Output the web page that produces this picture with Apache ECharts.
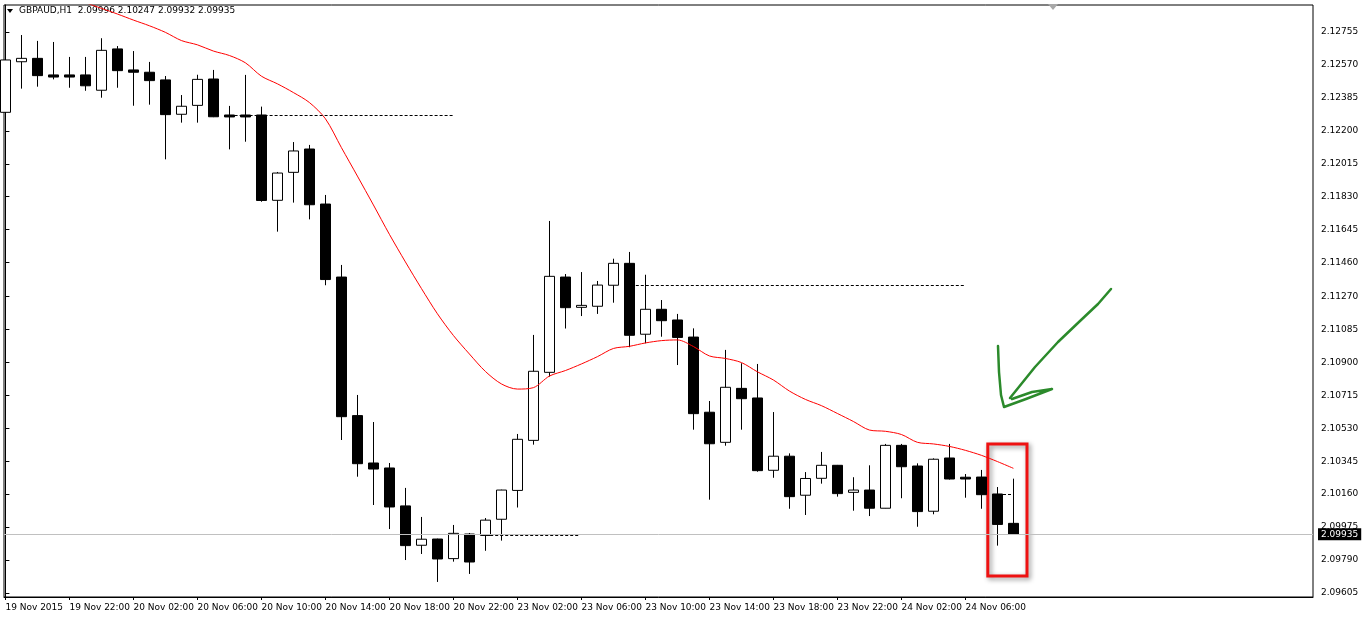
<!DOCTYPE html>
<html>
<head>
<meta charset="utf-8">
<script src="https://cdn.jsdelivr.net/npm/echarts@6/dist/echarts.min.js"></script>
<style>
  html, body { margin: 0; padding: 0; background: #fff; }
  #chart { width: 1362px; height: 617px; }
</style>
</head>
<body>
<div id="chart"></div>
<script>
// GBPAUD H1, 19 Nov 18:00 .. 24 Nov 09:00
const symbol = 'GBPAUD,H1';

const opens = [2.12304, 2.12588, 2.12607, 2.12514, 2.12514, 2.12514, 2.12428, 2.12660, 2.12542, 2.12529,
  2.12486, 2.12293, 2.12343, 2.12491, 2.12289, 2.12289, 2.12289, 2.11810, 2.11967, 2.12098,
  2.11789, 2.11379, 2.10601, 2.10335, 2.10307, 2.10094, 2.09873, 2.09908, 2.09798, 2.09936,
  2.09928, 2.10019, 2.10181, 2.10462, 2.10844, 2.11379, 2.11209, 2.11215, 2.11333, 2.11456,
  2.11058, 2.11198, 2.11138, 2.11042, 2.10620, 2.10451, 2.10754, 2.10700, 2.10294, 2.10373,
  2.10154, 2.10249, 2.10322, 2.10170, 2.10183, 2.10081, 2.10434, 2.10318, 2.10064, 2.10363,
  2.10255, 2.10256, 2.10161, 2.09996];
const highs = [2.12648, 2.12738, 2.12705, 2.12699, 2.12615, 2.12615, 2.12720, 2.12676, 2.12648, 2.12587,
  2.12508, 2.12401, 2.12515, 2.12542, 2.12340, 2.12514, 2.12336, 2.11969, 2.12137, 2.12121,
  2.11840, 2.11447, 2.10717, 2.10565, 2.10335, 2.10195, 2.10032, 2.09910, 2.09987, 2.09942,
  2.10026, 2.10185, 2.10498, 2.11054, 2.11694, 2.11396, 2.11407, 2.11357, 2.11482, 2.11520,
  2.11392, 2.11250, 2.11172, 2.11091, 2.10683, 2.10970, 2.10895, 2.10891, 2.10621, 2.10389,
  2.10284, 2.10397, 2.10324, 2.10255, 2.10322, 2.10442, 2.10442, 2.10333, 2.10361, 2.10442,
  2.10273, 2.10296, 2.10200, 2.10247];
const lows = [2.12295, 2.12437, 2.12448, 2.12489, 2.12442, 2.12425, 2.12386, 2.12442, 2.12341, 2.12347,
  2.12040, 2.12246, 2.12246, 2.12277, 2.12096, 2.12139, 2.11802, 2.11634, 2.11797, 2.11703,
  2.11333, 2.10464, 2.10258, 2.10099, 2.09964, 2.09790, 2.09824, 2.09667, 2.09781, 2.09712,
  2.09842, 2.09899, 2.10085, 2.10438, 2.10820, 2.11090, 2.11160, 2.11172, 2.11235, 2.10985,
  2.11007, 2.11044, 2.10885, 2.10522, 2.10129, 2.10432, 2.10522, 2.10286, 2.10252, 2.10078,
  2.10043, 2.10219, 2.10146, 2.10067, 2.10037, 2.10080, 2.10137, 2.09977, 2.10047, 2.10242,
  2.10140, 2.10078, 2.09871, 2.09932];
const closes = [2.12598, 2.12607, 2.12510, 2.12502, 2.12502, 2.12453, 2.12652, 2.12538, 2.12529, 2.12482,
  2.12291, 2.12338, 2.12489, 2.12279, 2.12278, 2.12278, 2.11809, 2.11963, 2.12087, 2.11785,
  2.11365, 2.10595, 2.10331, 2.10301, 2.10088, 2.09871, 2.09907, 2.09796, 2.09940, 2.09779,
  2.10014, 2.10183, 2.10468, 2.10850, 2.11383, 2.11207, 2.11220, 2.11334, 2.11456, 2.11052,
  2.11198, 2.11134, 2.11040, 2.10612, 2.10443, 2.10760, 2.10696, 2.10292, 2.10373, 2.10146,
  2.10248, 2.10322, 2.10163, 2.10183, 2.10081, 2.10434, 2.10314, 2.10062, 2.10356, 2.10245,
  2.10245, 2.10157, 2.09990, 2.09935];
// moving average (red)
const ma = [2.13086, 2.13053, 2.13019, 2.12985, 2.12953, 2.12920, 2.12888, 2.12856, 2.12822, 2.12790,
  2.12753, 2.12707, 2.12683, 2.12648, 2.12623, 2.12582, 2.12507, 2.12464, 2.12415, 2.12359,
  2.12268, 2.12106, 2.11946, 2.11784, 2.11619, 2.11464, 2.11315, 2.11173, 2.11051, 2.10947,
  2.10849, 2.10779, 2.10750, 2.10758, 2.10823, 2.10854, 2.10891, 2.10932, 2.10978, 2.10990,
  2.11009, 2.11022, 2.11026, 2.10989, 2.10936, 2.10922, 2.10899, 2.10847, 2.10801, 2.10739,
  2.10692, 2.10657, 2.10613, 2.10568, 2.10520, 2.10513, 2.10495, 2.10451, 2.10442, 2.10428,
  2.10406, 2.10378, 2.10343, 2.10305];

// one time label every 4 bars
const timeLabels = ['19 Nov 2015', '19 Nov 22:00', '20 Nov 02:00', '20 Nov 06:00', '20 Nov 10:00',
  '20 Nov 14:00', '20 Nov 18:00', '20 Nov 22:00', '23 Nov 02:00', '23 Nov 06:00', '23 Nov 10:00',
  '23 Nov 14:00', '23 Nov 18:00', '23 Nov 22:00', '24 Nov 02:00', '24 Nov 06:00'];
const priceTicks = ['2.09605', '2.09790', '2.09975', '2.10160', '2.10345', '2.10530', '2.10715',
  '2.10900', '2.11085', '2.11270', '2.11460', '2.11645', '2.11830', '2.12015', '2.12200', '2.12385',
  '2.12570', '2.12755'];

// dotted levels: [from bar, to bar, price]
const levels = [[13.7, 27.97, 2.12285], [39.4, 60.0, 2.11334], [30.3, 35.8, 2.09927], [62.35, 62.9, 2.10161]];
// red box around the last two bars
const boxBars = [61.4, 63.85];
const boxPrices = [2.10442, 2.09700];

const xMin = -0.0875, xMax = 81.725;
const f5 = v => v.toFixed(5);
const n = closes.length;
const candles = opens.map((o, i) => [i, o, closes[i], lows[i], highs[i]]);
const maLine = ma.map((v, i) => [i, v]);
const font = 'DejaVu Sans';

const chart = echarts.init(document.getElementById('chart'));

// 水平线: 虚线价位 + 当前价
const levelLines = levels.map(l => [{ coord: [l[0], l[2]] }, { coord: [l[1], l[2]] }]);
const lastLine = [
  { coord: [xMin, closes[n - 1]], lineStyle: { color: '#c0c0c0', type: 'solid', width: 1 } },
  {
    coord: [xMax, closes[n - 1]],
    label: {
      show: true, position: 'end', distance: 5, formatter: () => f5(closes[n - 1]),
      backgroundColor: '#000', color: '#fff', fontSize: 9, fontFamily: font, padding: [2, 3, 1, 3]
    }
  }
];

chart.setOption({
  animation: false,
  backgroundColor: '#fff',
  textStyle: { fontFamily: font },
  grid: { left: 4, right: 49, top: 5, bottom: 20, show: true, borderColor: '#000', borderWidth: 1 },
  xAxis: {
    type: 'value',
    min: xMin,
    max: xMax,
    axisLine: { lineStyle: { color: '#000' } },
    axisTick: { length: 3, lineStyle: { color: '#000' }, customValues: timeLabels.map((_, i) => i * 4) },
    axisLabel: {
      customValues: timeLabels.map((_, i) => i * 4),
      formatter: v => timeLabels[Math.round(v / 4)] || '',
      align: 'left', color: '#000', fontSize: 9, margin: 6, fontFamily: font
    },
    splitLine: { show: false }
  },
  yAxis: {
    type: 'value',
    position: 'right',
    min: 2.095825,
    max: 2.129066,
    axisLine: { show: true, lineStyle: { color: '#000' } },
    axisTick: { show: true, length: 4, lineStyle: { color: '#000' }, customValues: priceTicks.map(Number) },
    axisLabel: {
      customValues: priceTicks.map(Number),
      formatter: v => priceTicks.find(t => Math.abs(+t - v) < 1e-7) || f5(v),
      color: '#000', fontSize: 9, margin: 8, fontFamily: font, padding: [3, 0, 0, 0]
    },
    splitLine: { show: false }
  },
  series: [
    {
      type: 'line',
      data: maLine,
      showSymbol: false,
      silent: true,
      z: 1,
      lineStyle: { width: 0 },
      markLine: {
        silent: true,
        symbol: 'none',
        label: { show: false },
        lineStyle: { color: '#c0c0c0', type: 'solid', width: 1 },
        data: [lastLine]
      }
    },
    {
      type: 'candlestick',
      data: candles,
      encode: { x: 0, y: [1, 2, 3, 4] },
      barWidth: 10,
      itemStyle: { color: '#fff', color0: '#000', borderColor: '#000', borderColor0: '#000', borderWidth: 1 },
      markArea: {
        silent: true,
        itemStyle: {
          color: 'rgba(0,0,0,0)', borderColor: '#ee1111', borderWidth: 3,
          shadowBlur: 5, shadowColor: 'rgba(0,0,0,0.45)', shadowOffsetX: 2, shadowOffsetY: 2
        },
        data: [[{ coord: [boxBars[0], boxPrices[0]] }, { coord: [boxBars[1], boxPrices[1]] }]]
      }
    },
    {
      type: 'line',
      data: maLine,
      showSymbol: false,
      smooth: 0.3,
      lineStyle: { color: '#ff0000', width: 1 },
      itemStyle: { color: '#ff0000' },
      markLine: {
        silent: true,
        symbol: 'none',
        label: { show: false },
        lineStyle: { color: '#000', type: [3, 2], width: 1 },
        data: levelLines
      }
    }
  ],
  graphic: [
    { type: 'polygon', shape: { points: [[7, 9], [13, 9], [10, 13]] }, style: { fill: '#000' } },
    {
      type: 'text', left: 19, top: 6,
      style: {
        text: symbol + '  ' + [opens[n - 1], highs[n - 1], lows[n - 1], closes[n - 1]].map(f5).join(' '),
        font: '9px "DejaVu Sans"', fill: '#000'
      }
    },
    { type: 'polygon', shape: { points: [[1048, 4], [1058, 4], [1053, 10]] }, style: { fill: '#a8a8a8' } },
    // hand drawn green arrow
    {
      type: 'polyline',
      shape: { points: [[1111, 289], [1098, 304], [1080, 321], [1058, 342], [1035, 367], [1010, 398]] },
      style: { stroke: '#2b8a2b', lineWidth: 2.5, lineCap: 'round', lineJoin: 'round' }
    },
    {
      type: 'polyline',
      shape: { points: [[998, 346], [999, 372], [1001, 395], [1004, 407], [1026, 399], [1052, 389], [1032, 392], [1012, 399]] },
      style: { stroke: '#2b8a2b', lineWidth: 2.5, lineCap: 'round', lineJoin: 'round' }
    }
  ]
});
</script>
</body>
</html>
